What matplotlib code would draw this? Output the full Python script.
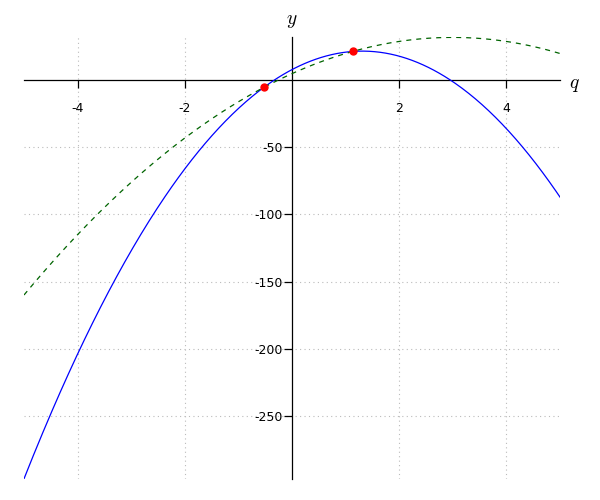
import numpy as np
import matplotlib
matplotlib.use("Agg")
import matplotlib.pyplot as plt

# Data
q_range = [-5.0, 5.0]
blue_coeffs = [-8.0, 21.0, 8.0]      # y = -8q^2 + 21q + 8
green_coeffs = [-3.0, 18.0, 5.0]     # y = -3q^2 + 18q + 5
point_q = [-0.53, 1.13]
point_y = [-5.1, 21.5]
x_ticks = [-4, -2, 2, 4]
y_ticks = [-250, -200, -150, -100, -50]
y_range = [-297.0, 32.0]

plt.rcParams['mathtext.fontset'] = 'cm'
fig = plt.figure(figsize=(6, 5), dpi=100)
ax = fig.add_axes([0.04, 0.0424, 0.8933, 0.8828])

q = np.linspace(q_range[0], q_range[1], 400)
ax.plot(q, np.polyval(blue_coeffs, q), color='blue', lw=0.9, zorder=3)
ax.plot(q, np.polyval(green_coeffs, q), color='#006400', lw=0.9,
        dashes=(4, 4), zorder=3)
ax.plot(point_q, point_y, 'o', color='red', ms=5, zorder=4)

ax.set_xlim(q_range)
ax.set_ylim(y_range)

for s in ['top', 'right']:
    ax.spines[s].set_visible(False)
ax.spines['left'].set_position(('data', 0))
ax.spines['bottom'].set_position(('data', 0))
for s in ['left', 'bottom']:
    ax.spines[s].set_linewidth(0.9)
    ax.spines[s].set_color('black')

ax.set_xticks(x_ticks)
ax.set_xticklabels([str(t).replace('\u2212', '-') for t in x_ticks])
ax.set_yticks(y_ticks)
ax.set_yticklabels([str(t) for t in y_ticks])
ax.tick_params(axis='x', direction='out', length=5.5, width=0.9, pad=10,
               labelsize=9)
ax.tick_params(axis='y', direction='out', length=5.5, width=0.9, pad=1,
               labelsize=9)
ax.grid(True, color='#bbbbbb', linestyle=(0, (1, 3)), linewidth=0.8)
ax.set_axisbelow(True)

fig.text(574 / 600, 1 - 84 / 500, r'$q$', fontsize=14, ha='center', va='center')
fig.text(292 / 600, 1 - 20 / 500, r'$y$', fontsize=14, ha='center', va='center')

fig.savefig('out.png', dpi=100)
